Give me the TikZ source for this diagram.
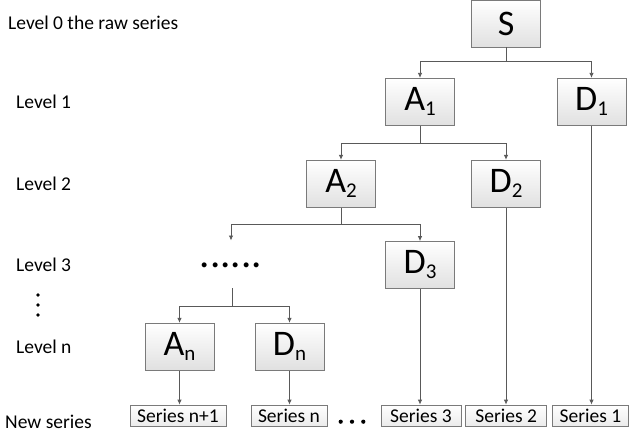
\documentclass[tikz,border=0pt]{standalone}
\usepackage{fontspec}
\setmainfont{Carlito}
\usetikzlibrary{arrows.meta}
\definecolor{linec}{HTML}{595959}
\definecolor{boxc}{HTML}{7A7A7A}
\tikzset{
  bigbox/.style={draw=boxc, line width=0.8pt, top color=white, bottom color=black!12,
    minimum width=69pt, minimum height=47pt, inner sep=0pt,
    font=\fontsize{36}{36}\selectfont},
  serbox/.style={draw=boxc, line width=0.8pt, top color=white, bottom color=black!8,
    minimum height=21.5pt, inner sep=0pt, font=\fontsize{19.5}{20}\selectfont},
  lbl/.style={anchor=west, inner sep=0pt, font=\fontsize{19.5}{20}\selectfont},
  conn/.style={draw=linec, line width=0.8pt},
  arr/.style={conn, -{Latex[length=5pt,width=4.5pt]}},
}
\newcommand{\sbx}[1]{\raisebox{-5pt}{\fontsize{21}{21}\selectfont #1}}
\begin{document}
\begin{tikzpicture}[x=1pt,y=-1pt]
\useasboundingbox (0,0) rectangle (629,442);
% boxes
\node[bigbox] (S)  at (506.2,23.5)  {S};
\node[bigbox] (A1) at (420,101.8)   {A\sbx{1}};
\node[bigbox] (D1) at (591.5,101.8) {D\sbx{1}};
\node[bigbox] (A2) at (341,183.7)   {A\sbx{2}};
\node[bigbox] (D2) at (506,183.7)   {D\sbx{2}};
\node[bigbox] (D3) at (420,265)     {D\sbx{3}};
\node[bigbox] (An) at (179.5,346.7) {A\sbx{n}};
\node[bigbox] (Dn) at (289.5,346.7) {D\sbx{n}};
% series boxes
\node[serbox, minimum width=96pt] (Sn1) at (178,415.8) {Series n+1};
\node[serbox, minimum width=76pt] (Sn)  at (289,415.8) {Series n};
\node[serbox, minimum width=80pt] (S3)  at (421,415.8) {Series 3};
\node[serbox, minimum width=81pt] (S2)  at (506.2,415.8) {Series 2};
\node[serbox, minimum width=76pt] (S1)  at (590.5,415.8) {Series 1};
% dots row
\node[inner sep=0pt, anchor=base, font=\fontsize{41}{41}\selectfont] (dots) at (231,267.5) {......};
% labels
\node[lbl] (L0) at (8,23)   {Level 0 the raw series};
\node[lbl] (L1) at (16,101.7) {Level 1};
\node[lbl] (L2) at (16,183.5) {Level 2};
\node[lbl] (L3) at (16,265)   {Level 3};
\node[lbl] (Ln) at (16,346.7) {Level n};
\node[lbl] (LN) at (5,421.7)  {New series};
\foreach \yy in {295,305,315} \fill (38,\yy) circle (1.9pt);
\foreach \xx in {340.7,352,363.3} \fill (\xx,421.7) circle (2.1pt);
% junctions
\coordinate (j0) at (506.2,61.7);
\coordinate (j1) at (420,143.3);
\coordinate (j2) at (341,224.3);
\coordinate (c3) at (231,240.5);
\coordinate (c4) at (232.7,288);
\coordinate (j4) at (232.7,306);
% connectors
\draw[conn] (S.south) -- (j0);
\draw[arr] (j0) -| (A1.north);
\draw[arr] (j0) -| (D1.north);
\draw[conn] (A1.south) -- (j1);
\draw[arr] (j1) -| (A2.north);
\draw[arr] (j1) -| (D2.north);
\draw[conn] (A2.south) -- (j2);
\draw[arr] (j2) -| (c3);
\draw[arr] (j2) -| (D3.north);
\draw[conn] (c4) -- (j4);
\draw[arr] (j4) -| (An.north);
\draw[arr] (j4) -| (Dn.north);
\draw[arr] (D1.south) -- (D1.south |- S1.north);
\draw[arr] (D2.south) -- (D2.south |- S2.north);
\draw[arr] (D3.south) -- (D3.south |- S3.north);
\draw[arr] (An.south) -- (An.south |- Sn1.north);
\draw[arr] (Dn.south) -- (Dn.south |- Sn.north);
\end{tikzpicture}
\end{document}
